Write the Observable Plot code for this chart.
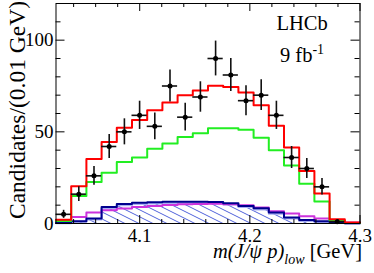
<!DOCTYPE html>
<html>
<head>
<meta charset="utf-8">
<script src="https://cdn.jsdelivr.net/npm/d3@7"></script>
<script src="https://cdn.jsdelivr.net/npm/@observablehq/plot@0.6"></script>
<style>
  html, body { margin: 0; padding: 0; background: white; }
  #chart { width: 374px; height: 273px; }
  #chart svg text { font-family: "Liberation Serif", "Times New Roman", serif; }
</style>
</head>
<body>
<svg width="0" height="0" style="position:absolute">
  <defs>
    <pattern id="hatch" patternUnits="userSpaceOnUse" width="14" height="7">
      <path d="M0,0L14,7M0,7L14,14M0,-7L14,0" stroke="#3b4fd6" stroke-width="0.9" fill="none"/>
    </pattern>
  </defs>
</svg>
<div id="chart"></div>
<script>
// Bin edges of m(J/psi p)_low [GeV] (20 bins)
const binEdges = [4.024, 4.0378, 4.0516, 4.0654, 4.0792, 4.093, 4.1068, 4.1206, 4.1344, 4.1482, 4.162,
                  4.1758, 4.1896, 4.2034, 4.2172, 4.231, 4.2448, 4.2586, 4.2724, 4.2862, 4.3];
// Data (black points) and their errors, bins 1..19
const dataCounts = [5, 16, 26, 42, 50, 59, 53, 75, 58, 69, 90, 81, 67, 70, 59, 36, 30, 20, 1];
const dataErrors = [2.2, 4, 5.1, 6.5, 7.1, 7.7, 7.3, 8.7, 7.6, 8.3, 9.5, 9, 8.2, 8.4, 7.7, 6, 5.5, 4.5, 1];
// Fit components (per bin)
const totalFit  = [2.0, 20.3, 35.2, 44.4, 52.2, 56.5, 61.8, 66.0, 70.0, 72.6, 75.2, 74.4, 71.5, 64.5, 53.3, 41.4, 28.6, 16.3, 2.3, 0.5];
const greenComp = [1.3, 15.0, 22.6, 27.7, 33.5, 36.0, 40.8, 43.6, 47.2, 49.2, 52.0, 52.0, 51.2, 46.8, 40.0, 31.7, 21.7, 12.0, 1.5, 0.3];
const blueComp  = [0.3, 1.2, 2.7, 9.0, 10.7, 11.3, 11.6, 11.8, 11.8, 11.8, 11.7, 11.0, 9.6, 8.3, 6.0, 3.3, 1.9, 1.2, 0.5, 0.1];
const hatchComp = [0.2, 0.9, 2.2, 8.2, 9.9, 10.6, 10.9, 11.1, 11.2, 11.2, 11.1, 10.4, 9.0, 7.6, 5.3, 2.7, 1.4, 0.8, 0.3, 0.0];
const magentaComp = [0.9, 3.6, 6.0, 7.2, 8.2, 9.0, 9.6, 10.1, 10.5, 10.7, 10.8, 10.5, 10.0, 8.7, 6.7, 5.4, 4.0, 2.7, 1.2, 0.5];
// Axis ticks
const xMajor = [4.1, 4.2, 4.3];
const xMinor = [4.04, 4.06, 4.08, 4.12, 4.14, 4.16, 4.18, 4.22, 4.24, 4.26, 4.28];
const yMajor = [0, 50, 100];
const yMinor = [10, 20, 30, 40, 60, 70, 80, 90, 110];

// Build tables
const stepPts = vals => binEdges.map((e, i) => ({x: e, y: vals[Math.min(i, vals.length - 1)]}));
const points = dataCounts.map((v, i) => ({
  lo: binEdges[i], hi: binEdges[i + 1], c: (binEdges[i] + binEdges[i + 1]) / 2, v, e: dataErrors[i]
}));

const W = 374, H = 273, mL = 55.5, mR = 14.5, mT = 3, mB = 50;
const innerW = W - mL - mR, innerH = H - mT - mB;
const serif = "Liberation Serif, Times New Roman, serif";

const stepLine = (vals, color) => Plot.lineY(stepPts(vals), {x: "x", y: "y", curve: "step-after", stroke: color, strokeWidth: 2});

const chart = Plot.plot({
  width: W, height: H,
  marginLeft: mL, marginRight: mR, marginTop: mT, marginBottom: mB,
  style: {fontFamily: serif, fontSize: "19px", background: "white", color: "black"},
  x: {domain: [4.024, 4.3]},
  y: {domain: [0, 120]},
  marks: [
    Plot.areaY(stepPts(hatchComp), {x: "x", y: "y", curve: "step-after", fill: "url(#hatch)"}),
    stepLine(hatchComp, "#a9b0f2"),
    stepLine(magentaComp, "#cc33dd"),
    stepLine(blueComp, "#00008f"),
    stepLine(greenComp, "#22ee22"),
    stepLine(totalFit, "#ff0000"),
    Plot.ruleX(points, {x: "c", y1: d => d.v - d.e, y2: d => d.v + d.e, stroke: "#111", strokeWidth: 1.6}),
    Plot.ruleY(points, {y: "v", x1: "lo", x2: "hi", stroke: "#111", strokeWidth: 1.6}),
    Plot.dot(points, {x: "c", y: "v", r: 2.5, fill: "black", stroke: null}),
    // inward ticks on all four sides
    Plot.tickY(yMajor, {y: d => d, insetRight: innerW - 9, stroke: "black"}),
    Plot.tickY(yMinor, {y: d => d, insetRight: innerW - 5, stroke: "black"}),
    Plot.tickY(yMajor, {y: d => d, insetLeft: innerW - 9, stroke: "black"}),
    Plot.tickY(yMinor, {y: d => d, insetLeft: innerW - 5, stroke: "black"}),
    Plot.tickX(xMajor, {x: d => d, insetTop: innerH - 8, stroke: "black"}),
    Plot.tickX(xMinor, {x: d => d, insetTop: innerH - 4, stroke: "black"}),
    Plot.tickX(xMajor, {x: d => d, insetBottom: innerH - 8, stroke: "black"}),
    Plot.tickX(xMinor, {x: d => d, insetBottom: innerH - 4, stroke: "black"}),
    Plot.axisY({ticks: yMajor, tickSize: 0, tickPadding: 2.5, fontSize: 19, fontFamily: serif, fontVariant: "normal", label: null, tickFormat: d => String(d)}),
    Plot.axisX({ticks: xMajor, tickSize: 0, tickPadding: 4.5, fontSize: 19, fontFamily: serif, fontVariant: "normal", label: null, tickFormat: d3.format(".1f")}),
    Plot.frame({stroke: "black", strokeWidth: 1})
  ]
});

document.getElementById("chart").appendChild(chart);
const svg = d3.select(chart);

// Y axis title
svg.append("text")
  .attr("transform", "translate(25,1) rotate(-90)")
  .attr("text-anchor", "end")
  .attr("font-family", serif).attr("font-size", 23.5).attr("fill", "black")
  .text("Candidates/(0.01 GeV)");

// X axis title
const xt = svg.append("text")
  .attr("x", 362).attr("y", 258)
  .attr("text-anchor", "end")
  .attr("font-family", serif).attr("font-size", 20.5).attr("fill", "black");
xt.append("tspan").attr("font-style", "italic").text("m(J/ψ p)");
xt.append("tspan").attr("font-style", "italic").attr("font-size", 14).attr("dy", 6).text("low");
xt.append("tspan").attr("dy", -6).text(" [GeV]");

// LHCb label
svg.append("text")
  .attr("x", 302).attr("y", 30)
  .attr("font-family", serif).attr("font-size", 20.5).attr("fill", "black")
  .text("LHCb");
const lum = svg.append("text")
  .attr("x", 302).attr("y", 61.5)
  .attr("font-family", serif).attr("font-size", 20.5).attr("fill", "black");
lum.append("tspan").text("9 fb");
lum.append("tspan").attr("font-size", 14).attr("dy", -8).text("-1");
</script>
</body>
</html>
